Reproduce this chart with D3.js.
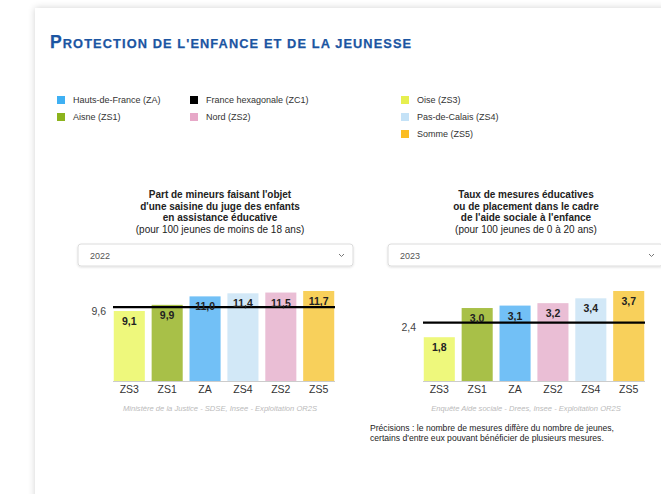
<!DOCTYPE html>
<html>
<head>
<meta charset="utf-8">
<script src="https://cdn.jsdelivr.net/npm/d3@7"></script>
<style>
  html, body { margin: 0; padding: 0; background: #fff; overflow: hidden; }
  body { width: 661px; height: 494px; position: relative; font-family: "Liberation Sans", Arial, sans-serif; }
  .card { position: absolute; left: 35px; top: 8px; width: 700px; height: 560px; background: #fff;
    box-shadow: 0 0 7px rgba(0, 0, 0, 0.18); }
  svg { position: absolute; left: 0; top: 0; }
  .title { font-weight: bold; fill: #1b55a2; stroke: #1b55a2; stroke-width: 0.25px; }
  .legend text { font-size: 9px; fill: #333; }
  .ctitle { font-size: 10px; fill: #222; text-anchor: middle; }
  .axis text { font-size: 10.5px; fill: #333; }
  .val { font-size: 10.5px; font-weight: bold; fill: #222; text-anchor: middle; }
  .ref { font-size: 10.5px; fill: #444; text-anchor: end; }
  .src { font-size: 7.6px; font-style: italic; fill: #bbb; text-anchor: middle; }
  .note { font-size: 8.6px; fill: #222; }
</style>
</head>
<body>
<div class="card"></div>
<svg id="chart" width="661" height="494"></svg>
<script>
// zones and colours
var zones = ['ZA', 'ZC1', 'ZS1', 'ZS2', 'ZS3', 'ZS4', 'ZS5'];
var zoneNames = ['Hauts-de-France (ZA)', 'France hexagonale (ZC1)', 'Aisne (ZS1)', 'Nord (ZS2)',
  'Oise (ZS3)', 'Pas-de-Calais (ZS4)', 'Somme (ZS5)'];
var legendColors = ['#3fb0f3', '#000000', '#8cb31d', '#e7a8c8', '#e6ef4f', '#c4e2f7', '#fbbd23'];
var barColors = ['#72c0f6', '#000000', '#a8c048', '#eabed5', '#eef87c', '#d2e8f7', '#f8d05b'];

// chart 1 : saisine du juge des enfants (2022)
var cats1 = ['ZS3', 'ZS1', 'ZA', 'ZS4', 'ZS2', 'ZS5'];
var vals1 = [9.1, 9.9, 11.0, 11.4, 11.5, 11.7];
var ref1 = 9.6;
var title1 = ["Part de mineurs faisant l'objet", "d'une saisine du juge des enfants", 'en assistance éducative'];
var sub1 = '(pour 100 jeunes de moins de 18 ans)';
var year1 = '2022';
var src1 = 'Ministère de la Justice - SDSE, Insee - Exploitation OR2S';

// chart 2 : mesures ASE (2023)
var cats2 = ['ZS3', 'ZS1', 'ZA', 'ZS2', 'ZS4', 'ZS5'];
var vals2 = [1.8, 3.0, 3.1, 3.2, 3.4, 3.7];
var ref2 = 2.4;
var title2 = ['Taux de mesures éducatives', 'ou de placement dans le cadre', "de l'aide sociale à l'enfance"];
var sub2 = '(pour 100 jeunes de 0 à 20 ans)';
var year2 = '2023';
var src2 = 'Enquête Aide sociale - Drees, Insee - Exploitation OR2S';

var note = ['Précisions : le nombre de mesures diffère du nombre de jeunes,',
  "certains d'entre eux pouvant bénéficier de plusieurs mesures."];

var svg = d3.select('#chart');

var defs = svg.append('defs');
var f = defs.append('filter').attr('id', 'sh').attr('x', '-5%').attr('y', '-30%')
  .attr('width', '110%').attr('height', '160%');
f.append('feDropShadow').attr('dx', 0).attr('dy', 1).attr('stdDeviation', 1)
  .attr('flood-color', '#000').attr('flood-opacity', 0.12);

// heading, drawn as small caps by hand
var heading = "Protection de l'enfance et de la jeunesse";
var th = svg.append('text').attr('class', 'title').attr('x', 50).attr('y', 48)
  .style('letter-spacing', '1.1px');
th.append('tspan').style('font-size', '17.5px').text(heading.charAt(0));
th.append('tspan').style('font-size', '12.8px').text(heading.slice(1).toUpperCase());

// legend
var legendPos = [[57, 100], [190, 100], [57, 117], [190, 117], [401, 100], [401, 117], [401, 134]];
var lg = svg.append('g').attr('class', 'legend');
zones.forEach(function(z, i) {
  var p = legendPos[i];
  lg.append('rect').attr('x', p[0]).attr('y', p[1] - 4).attr('width', 8).attr('height', 8)
    .attr('fill', legendColors[i]);
  lg.append('text').attr('x', p[0] + 16).attr('y', p[1] + 3).text(zoneNames[i]);
});

function fmt(v) { return d3.format('.1f')(v).replace('.', ','); }

function drawChart(cx, selX, x0, x1, cats, vals, ref, title, sub, year, src) {
  var g = svg.append('g');
  title.forEach(function(t, i) {
    g.append('text').attr('class', 'ctitle').attr('x', cx).attr('y', 198 + i * 11.5)
      .style('font-weight', 'bold').text(t);
  });
  g.append('text').attr('class', 'ctitle').attr('x', cx).attr('y', 198 + 3 * 11.5).text(sub);

  // year selector
  g.append('rect').attr('x', selX).attr('y', 244).attr('width', 275).attr('height', 22)
    .attr('rx', 3).attr('fill', '#fff').attr('stroke', '#dcdcdc').attr('filter', 'url(#sh)');
  g.append('text').attr('x', selX + 12).attr('y', 258.5).style('font-size', '9px')
    .attr('fill', '#555').text(year);
  g.append('path').attr('d', d3.line()([[selX + 261, 254], [selX + 263.5, 256.5], [selX + 266, 254]]))
    .attr('fill', 'none').attr('stroke', '#777').attr('stroke-width', 1);

  var x = d3.scaleBand().domain(cats).range([x0, x1]).paddingInner(0.18).paddingOuter(0.02);
  var y = d3.scaleLinear().domain([0, d3.max(vals)]).range([381, 291]);

  g.selectAll('.bar').data(cats).enter().append('rect')
    .attr('x', function(d) { return x(d); })
    .attr('y', function(d, i) { return y(vals[i]); })
    .attr('width', x.bandwidth())
    .attr('height', function(d, i) { return y(0) - y(vals[i]); })
    .attr('fill', function(d) { return barColors[zones.indexOf(d)]; });

  g.append('line').attr('x1', x0).attr('x2', x1).attr('y1', y(0) + 0.5).attr('y2', y(0) + 0.5)
    .attr('stroke', '#ccc');

  var ax = g.append('g').attr('class', 'axis').attr('transform', 'translate(0,' + y(0) + ')')
    .call(d3.axisBottom(x).tickSize(0).tickPadding(5));
  ax.select('.domain').remove();

  g.append('line').attr('x1', x0).attr('x2', x1).attr('y1', y(ref)).attr('y2', y(ref))
    .attr('stroke', '#000').attr('stroke-width', 2.2);
  g.append('text').attr('class', 'ref').attr('x', x0 - 7).attr('y', y(ref) + 8).text(fmt(ref));

  g.selectAll('.val').data(cats).enter().append('text').attr('class', 'val')
    .attr('x', function(d) { return x(d) + x.bandwidth() / 2; })
    .attr('y', function(d, i) { return y(vals[i]) + 14; })
    .text(function(d, i) { return fmt(vals[i]); });

  g.append('text').attr('class', 'src').attr('x', cx).attr('y', 411).text(src);
}

drawChart(220, 78, 113, 335, cats1, vals1, ref1, title1, sub1, year1, src1);
drawChart(526, 388, 423, 645, cats2, vals2, ref2, title2, sub2, year2, src2);

note.forEach(function(t, i) {
  svg.append('text').attr('class', 'note').attr('x', 370).attr('y', 431 + i * 10).text(t);
});
</script>
</body>
</html>
